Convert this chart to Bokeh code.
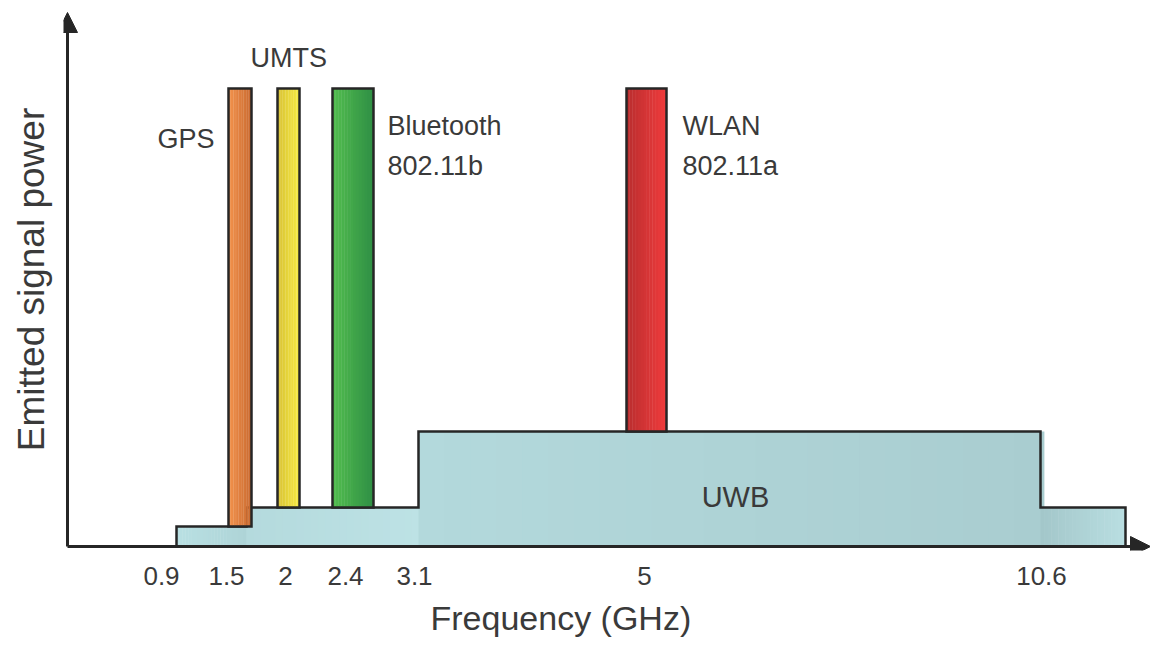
import numpy as np
from bokeh.plotting import figure
from bokeh.models import Range1d, FixedTicker, Arrow, NormalHead, Title, ColumnDataSource
from bokeh.core.properties import value
from bokeh.embed import file_html
from bokeh.resources import INLINE

FONT = "Liberation Sans"
INK = "#3a3a3a"
EDGE = "#262626"

# Schematic (not-to-scale) frequency axis: where each labelled frequency sits
tick_labels = ["0.9", "1.5", "2", "2.4", "3.1", "5", "10.6"]
tick_pos = [94, 159, 218, 278, 347, 577, 974]

# UWB emission mask, as steps (schematic x units, relative power units)
uwb_left = [109, 179, 351, 973]
uwb_right = [179, 351, 973, 1058]
uwb_level = [20, 39, 115, 39]
uwb_col_a = ["#b9e0e3", "#b4dadd", "#b3d9dc", "#a3c6c9"]
uwb_col_b = ["#aed4d7", "#bde2e5", "#a9cdd0", "#b9dfe2"]

# Narrow-band services
svc_names = ["GPS", "UMTS", "Bluetooth", "WLAN"]
svc_left = [161, 210, 265, 559]
svc_right = [184, 232, 306, 599]
svc_bottom = [20, 39, 39, 115]
svc_top = [458, 458, 458, 458]
svc_col_a = ["#f3924c", "#d9c235", "#52bd4e", "#b92d2f"]
svc_col_b = ["#c96a30", "#f6ea42", "#2f8f45", "#f03c3c"]

# Annotation texts
label_text = ["GPS", "UMTS", "Bluetooth", "802.11b", "WLAN", "802.11a"]
label_x = [90, 183, 320, 320, 615, 615]
label_y = [408, 489, 421, 381, 421, 381]

X0, X1 = -4, 1083
Y0, Y1 = -4, 538

p = figure(width=1150, height=646, output_backend="svg", toolbar_location=None,
           x_range=Range1d(X0, X1), y_range=Range1d(Y0, Y1),
           min_border_left=63, min_border_right=0, min_border_top=8, min_border_bottom=96)
p.outline_line_color = None
p.xgrid.visible = False
p.ygrid.visible = False
p.background_fill_color = "white"


def hexmix(a, b, t):
    a = [int(a[i:i + 2], 16) for i in (1, 3, 5)]
    b = [int(b[i:i + 2], 16) for i in (1, 3, 5)]
    return "#%02x%02x%02x" % tuple(int(round(a[k] + (b[k] - a[k]) * t)) for k in range(3))


def gradient_block(l, r, bot, top, ca, cb, n=14):
    xs = np.linspace(l, r, n + 1)
    cols = [hexmix(ca, cb, (i + 0.5) / n) for i in range(n)]
    p.quad(left=xs[:-1], right=xs[1:] + (r - l) / n * 0.15, bottom=bot, top=top,
           fill_color=cols, line_color=None)


# UWB fill
for l, r, lv, ca, cb in zip(uwb_left, uwb_right, uwb_level, uwb_col_a, uwb_col_b):
    gradient_block(l, r, 0, lv, ca, cb, n=24)

# UWB outline
ox, oy = [uwb_left[0]], [0]
for l, r, lv in zip(uwb_left, uwb_right, uwb_level):
    ox += [l, r]
    oy += [lv, lv]
ox.append(uwb_right[-1])
oy.append(0)
p.line(ox, oy, line_color=EDGE, line_width=2.5, line_join="miter")

# Service bars
for l, r, b, t, ca, cb in zip(svc_left, svc_right, svc_bottom, svc_top, svc_col_a, svc_col_b):
    gradient_block(l, r, b, t, ca, cb)
p.quad(left=svc_left, right=svc_right, bottom=svc_bottom, top=svc_top,
       fill_color=None, line_color=EDGE, line_width=2.5, line_join="miter")

# Texts
src = ColumnDataSource(dict(x=label_x, y=label_y, t=label_text))
p.text(x="x", y="y", text="t", source=src, text_font=value(FONT), text_font_size="27px",
       text_color=INK, text_align="left", text_baseline="middle")
p.text(x=[np.mean([uwb_left[2], uwb_right[2]]) + 6], y=[uwb_level[2] * 0.43], text=["UWB"],
       text_font=value(FONT), text_font_size="29px", text_color=INK,
       text_align="center", text_baseline="middle")

# Axes with arrow heads
p.add_layout(Arrow(end=NormalHead(size=20, fill_color=EDGE, line_color=EDGE),
                   x_start=0, y_start=0, x_end=X1, y_end=0, line_width=3, line_color=EDGE))
p.add_layout(Arrow(end=NormalHead(size=20, fill_color=EDGE, line_color=EDGE),
                   x_start=0, y_start=0, x_end=0, y_end=Y1 - 4, line_width=3, line_color=EDGE))

xa = p.xaxis[0]
xa.ticker = FixedTicker(ticks=tick_pos)
xa.major_label_overrides = {tp: tl for tp, tl in zip(tick_pos, tick_labels)}
xa.axis_line_color = None
xa.major_tick_line_color = None
xa.minor_tick_line_color = None
xa.major_tick_out = 0
xa.major_tick_in = 0
xa.major_label_standoff = 16
xa.major_label_text_font = FONT
xa.major_label_text_font_size = "26px"
xa.major_label_text_color = INK

ya = p.yaxis[0]
ya.ticker = FixedTicker(ticks=[])
ya.axis_line_color = None
ya.major_tick_line_color = None
ya.minor_tick_line_color = None
ya.major_tick_out = 0
ya.axis_label = "Emitted signal power"
ya.axis_label_text_font = FONT
ya.axis_label_text_font_size = "37px"
ya.axis_label_text_font_style = "normal"
ya.axis_label_text_color = INK
ya.axis_label_standoff = 12

p.add_layout(Title(text="Frequency (GHz)", align="left", offset=367, standoff=18,
                   vertical_align="bottom", text_line_height=0.8,
                   text_font=FONT, text_font_size="34px", text_font_style="normal",
                   text_color=INK), "below")

open("out.html", "w").write(file_html(p, INLINE))
